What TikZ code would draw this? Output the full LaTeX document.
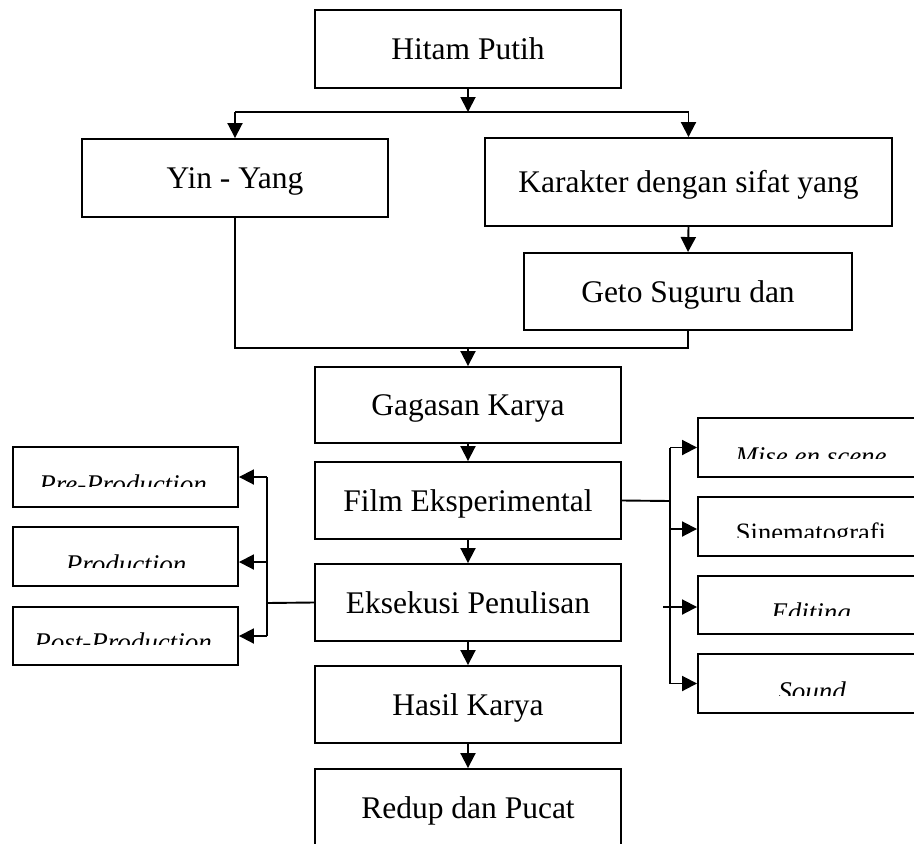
\documentclass[tikz,border=0pt]{standalone}
\usepackage{fontspec}
\setmainfont{Liberation Serif}
\usetikzlibrary{arrows.meta}
\begin{document}
\begin{tikzpicture}[x=1pt,y=-1pt,
  line width=1.9pt,
  box/.style={draw, line width=1.9pt, rectangle, inner sep=0pt, text height=21pt, text depth=0pt, font=\fontsize{31.5}{38}\selectfont},
  sbox/.style={draw, line width=1.9pt, rectangle, inner sep=0pt},
  lbl/.style={font=\fontsize{27}{32}\selectfont\itshape, inner sep=0pt, anchor=base},
  ulbl/.style={font=\fontsize{26.5}{32}\selectfont, inner sep=0pt, anchor=base},
  arr/.style={-{Triangle[length=15pt,width=15pt]}}]
\useasboundingbox (0,0) rectangle (914,844);
\clip (0,0) rectangle (914,844);
% main boxes
\node[box, minimum width=306pt, minimum height=78pt] (hp) at (468,49) {Hitam Putih};
\node[box, minimum width=306pt, minimum height=78pt] (yy) at (235,178) {Yin - Yang};
\node[box, minimum width=407pt, minimum height=88pt] (kr) at (688.5,182) {Karakter dengan sifat yang};
\node[box, minimum width=328pt, minimum height=77pt] (ge) at (688,291.5) {Geto Suguru dan};
\node[box, minimum width=306pt, minimum height=76pt] (gk) at (468,405) {Gagasan Karya};
\node[box, minimum width=306pt, minimum height=77pt] (fe) at (468,500.5) {Film Eksperimental};
\node[box, minimum width=306pt, minimum height=77pt] (ek) at (468,602.5) {Eksekusi Penulisan};
\node[box, minimum width=306pt, minimum height=77pt] (hk) at (468,704.5) {Hasil Karya};
\node[box, minimum width=306pt, minimum height=77pt] (rp) at (468,807.5) {Redup dan Pucat};
% left boxes
\node[sbox, minimum width=225pt, minimum height=60pt] (pre) at (125.5,477) {};
\node[sbox, minimum width=225pt, minimum height=59pt] (prod) at (125.5,556.5) {};
\node[sbox, minimum width=225pt, minimum height=58pt] (post) at (125.5,636) {};
% right boxes
\node[sbox, minimum width=232pt, minimum height=59pt] (mise) at (814,447.5) {};
\node[sbox, minimum width=232pt, minimum height=59pt] (sin) at (814,526.5) {};
\node[sbox, minimum width=232pt, minimum height=58pt] (edi) at (814,605) {};
\node[sbox, minimum width=232pt, minimum height=59pt] (snd) at (814,683.5) {};
% clipped labels
\begin{scope}\clip (14,448) rectangle (237,486);
\node[lbl] (tpre) at (123,493) {Pre-Production};\end{scope}
\begin{scope}\clip (14,528) rectangle (237,567);
\node[lbl] (tprod) at (126,573) {Production};\end{scope}
\begin{scope}\clip (14,608) rectangle (237,644);
\node[lbl] (tpost) at (123,651) {Post-Production};\end{scope}
\begin{scope}\clip (699,419) rectangle (914,458);
\node[lbl] (tmise) at (811,465) {Mise en scene};\end{scope}
\begin{scope}\clip (699,498) rectangle (914,537);
\node[ulbl] (tsin) at (811,541) {Sinematografi};\end{scope}
\begin{scope}\clip (699,577) rectangle (914,615);
\node[lbl] (tedi) at (811,621) {Editing};\end{scope}
\begin{scope}\clip (699,655) rectangle (914,695);
\node[lbl] (tsnd) at (812,700) {Sound};\end{scope}
% connectors top
\coordinate (j1) at (468,112);
\draw[arr] (hp.south) -- (j1);
\draw (yy.north |- j1) -- (kr.north |- j1);
\draw[arr] (yy.north |- j1) -- (yy.north);
\draw[arr] (kr.north |- j1) -- (kr.north);
\draw[arr] (kr.south) -- (ge.north);
\coordinate (j2) at (468,348);
\draw (yy.south) |- (ge.south |- j2) -- (ge.south);
\draw[arr] (j2) -- (gk.north);
\draw[arr] (gk.south) -- (fe.north);
\draw[arr] (fe.south) -- (ek.north);
\draw[arr] (ek.south) -- (hk.north);
\draw[arr] (hk.south) -- (rp.north);
% left connectors
\coordinate (lv) at (267,603);
\coordinate (lp) at (267,562);
\draw (ek.west) -- (lv);
\draw (lv |- pre.east) -- (lv |- post.east);
\draw[arr] (lv |- pre.east) -- (pre.east);
\draw[arr] (lp) -- (prod.east |- lp);
\draw[arr] (lv |- post.east) -- (post.east);
% right connectors
\coordinate (rv) at (670,501);
\coordinate (rs) at (670,529);
\coordinate (re) at (663,607);
\draw (fe.east) -- (rv);
\draw (rv |- mise.west) -- (rv |- snd.west);
\draw[arr] (rv |- mise.west) -- (mise.west);
\draw[arr] (rs) -- (sin.west |- rs);
\draw[arr] (re) -- (edi.west |- re);
\draw[arr] (rv |- snd.west) -- (snd.west);
\end{tikzpicture}
\end{document}
